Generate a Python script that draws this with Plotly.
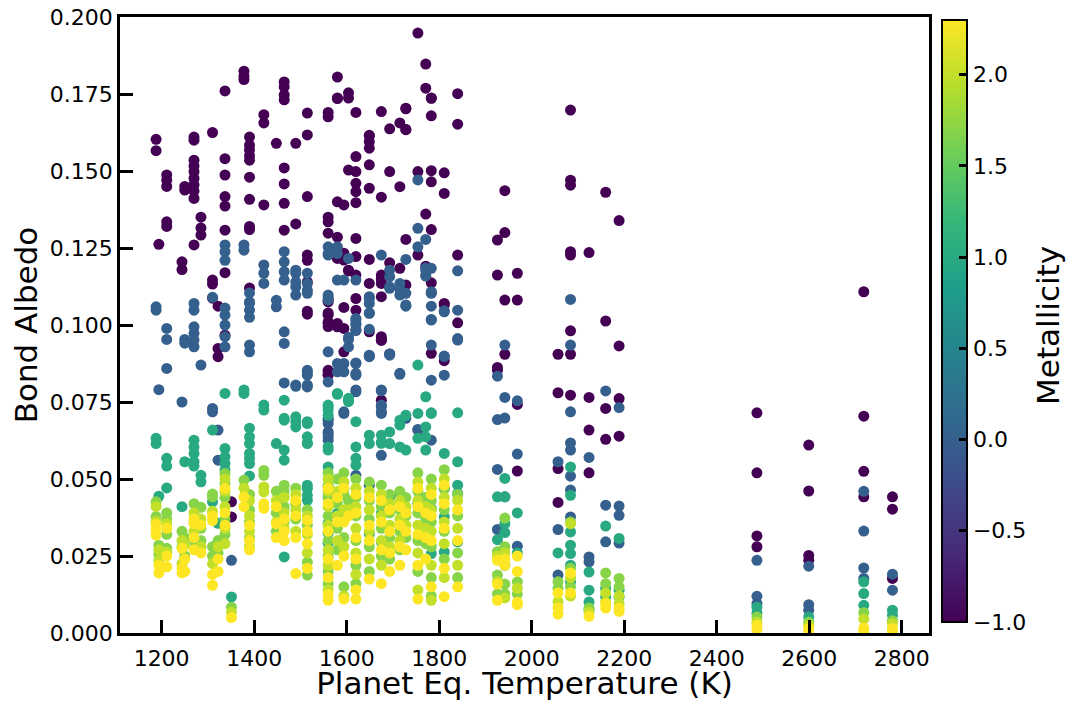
import plotly.graph_objects as go

# planet equilibrium temperatures (K), one column of models per planet
temps = [1188, 1194, 1211, 1244, 1250, 1270, 1285, 1310, 1322, 1337,
         1351, 1378, 1390, 1421, 1448, 1465, 1490, 1515, 1560, 1580,
         1594, 1604, 1620, 1649, 1675, 1693, 1715, 1728, 1754, 1771,
         1783, 1811, 1840, 1926, 1942, 1969, 2057, 2084, 2124, 2160,
         2189, 2487, 2599, 2718, 2780]

metallicities = [-1.0, 0.0, 1.0, 1.7, 2.0, 2.3]

# bond albedo per planet column, metallicity -1.0
alb_m10 = [
    [0.1603, 0.1566], [0.1262], [0.1487, 0.147, 0.145, 0.1335, 0.132],
    [0.1205, 0.118], [0.145, 0.1438],
    [0.161, 0.160, 0.1535, 0.1516, 0.1498, 0.1476, 0.1455, 0.1435, 0.1411, 0.126],
    [0.135, 0.1315, 0.1292], [0.1625, 0.1146, 0.1133, 0.1087], [0.1061, 0.0924, 0.0897],
    [0.176, 0.154, 0.1487, 0.1417, 0.1386, 0.1308, 0.117, 0.0967],
    [0.0426, 0.0377], [0.1824, 0.1808, 0.1797],
    [0.161, 0.1584, 0.1568, 0.155, 0.1535, 0.148, 0.1408, 0.131, 0.132, 0.112],
    [0.1683, 0.1656, 0.139], [0.159],
    [0.1789, 0.1773, 0.1747, 0.1731, 0.151, 0.1458, 0.1395, 0.1308],
    [0.159, 0.1328],
    [0.1688, 0.1617, 0.1417, 0.1227, 0.121, 0.114, 0.1045, 0.1035],
    [0.169, 0.1676, 0.135, 0.1335, 0.1298, 0.1075, 0.1039, 0.1006, 0.0995, 0.1081,
     0.1032, 0.101, 0.0853, 0.0837, 0.0848, 0.084],
    [0.1805, 0.1735, 0.1737, 0.140, 0.1285, 0.1243, 0.1216, 0.0994, 0.1005],
    [0.139, 0.1233, 0.1211, 0.0989, 0.1057, 0.0913],
    [0.1754, 0.1737, 0.1503, 0.1178, 0.1176],
    [0.169, 0.1547, 0.1498, 0.146, 0.1433, 0.1397, 0.1281, 0.1086, 0.1048, 0.1222,
     0.1162, 0.0983],
    [0.1616, 0.1614, 0.1595, 0.1574, 0.152, 0.1444, 0.1213, 0.1135, 0.0978],
    [0.1693, 0.1415, 0.1151, 0.1135, 0.1092, 0.0962, 0.1162, 0.1146, 0.0953, 0.0756, 0.095],
    [0.1637, 0.1498, 0.1202, 0.0906], [0.1656, 0.1449, 0.1184],
    [0.1702, 0.1634, 0.1704, 0.1635, 0.1278, 0.113], [0.1948, 0.1498, 0.1227],
    [0.1847, 0.1769, 0.136, 0.1191],
    [0.1736, 0.1737, 0.1679, 0.1501, 0.1465, 0.131, 0.1105, 0.1137, 0.0908],
    [0.1494, 0.1427, 0.107, 0.0884, 0.1065], [0.1751, 0.1652, 0.1227, 0.1007],
    [0.1276, 0.1162, 0.0862, 0.0853], [0.1436, 0.13, 0.1081, 0.0905],
    [0.1168, 0.1081, 0.0742, 0.0526], [0.0905, 0.078, 0.0534, 0.0424],
    [0.1698, 0.147, 0.1454, 0.1238, 0.1227, 0.0981, 0.0905, 0.0772],
    [0.1235, 0.0765, 0.0659, 0.052], [0.1431, 0.1013, 0.0729, 0.0629],
    [0.1339, 0.0932, 0.0761, 0.0639], [0.0715, 0.052, 0.0315, 0.028],
    [0.061, 0.0461, 0.0252, 0.0236], [0.1108, 0.0704, 0.0525, 0.0442],
    [0.0442, 0.0402, 0.0177],
]

# metallicity 0.0
alb_00 = [
    [0.1059, 0.1048], [0.079], [0.0989, 0.0953, 0.0859], [0.075], [0.0953, 0.0941],
    [0.107, 0.1048, 0.0994, 0.0973, 0.0951, 0.0929], [0.087], [0.109, 0.0729, 0.0718],
    [0.0659, 0.0561], [0.126, 0.1238, 0.121, 0.1055, 0.1032, 0.1, 0.0962, 0.0929],
    [0.0236], [0.126, 0.1243], [0.1104, 0.1075, 0.1071, 0.1048, 0.1025, 0.0935, 0.0913],
    [0.1195, 0.1168, 0.1135], [0.108, 0.1059],
    [0.1238, 0.1205, 0.1173, 0.1146, 0.0978, 0.094, 0.0812],
    [0.1168, 0.1124, 0.1097, 0.0805, 0.0801, 0.1178, 0.114],
    [0.1168, 0.1113, 0.1135, 0.1103, 0.0845, 0.0853, 0.0837, 0.0805, 0.0799],
    [0.1232, 0.1254, 0.109, 0.0913, 0.0815, 0.0691, 0.0648, 0.0626, 0.1227, 0.1097,
     0.1081, 0.0697, 0.068, 0.0653, 0.0637],
    [0.1254, 0.1232, 0.1146, 0.0875, 0.0848],
    [0.1146, 0.0875, 0.0848, 0.0713, 0.0718],
    [0.1216, 0.096, 0.0953, 0.0929],
    [0.1146, 0.1021, 0.1005, 0.0983, 0.1016, 0.1, 0.0875, 0.0837, 0.0789, 0.0877,
     0.0843, 0.0783, 0.0512],
    [0.1092, 0.1039, 0.0986, 0.1086, 0.107, 0.1038, 0.0902, 0.0897, 0.0899, 0.048],
    [0.1227, 0.0789, 0.0734, 0.0713, 0.0786, 0.074, 0.0718, 0.0577],
    [0.1178, 0.1157, 0.1119, 0.1124, 0.0902, 0.0906],
    [0.1135, 0.1116, 0.1097, 0.0843, 0.084],
    [0.1213, 0.1103, 0.1061, 0.1065, 0.0697],
    [0.1471, 0.1314, 0.1254, 0.0661, 0.0659],
    [0.1278, 0.1185, 0.1162, 0.1178, 0.1159],
    [0.1184, 0.1103, 0.1061, 0.1018, 0.1108, 0.1016, 0.0935, 0.0821, 0.0626],
    [0.1046, 0.1043, 0.0899, 0.0837, 0.0897, 0.0469],
    [0.1176, 0.1048, 0.0956, 0.0951],
    [0.0834, 0.0693, 0.0531, 0.0336], [0.0935, 0.0765, 0.0698, 0.0442],
    [0.0754, 0.0581, 0.0282], [0.0556, 0.0336, 0.0188],
    [0.1083, 0.0935, 0.0718, 0.0617, 0.0594, 0.0509, 0.0464, 0.0377],
    [0.057, 0.0247, 0.0231], [0.0786, 0.0415, 0.0296], [0.0732, 0.0412, 0.0382, 0.0292],
    [0.0236, 0.0119, 0.0095], [0.0217, 0.0092, 0.0074],
    [0.046, 0.0331, 0.0211, 0.0177], [0.0191, 0.0139],
]

# metallicity 1.0
alb_10 = [
    [0.0632, 0.0615], [0.0444], [0.0567, 0.0542, 0.0471], [0.041], [0.0556],
    [0.0626, 0.0604, 0.0583, 0.0556, 0.0542], [0.0512, 0.0491], [0.0659, 0.0426],
    [0.0356, 0.0291], [0.0778, 0.0599, 0.0572, 0.055, 0.0529], [0.0117],
    [0.0789, 0.0778], [0.0665, 0.0637, 0.0615, 0.0583, 0.0567, 0.055, 0.051],
    [0.074, 0.0724], [0.0615], [0.0756, 0.0691, 0.0697, 0.0594, 0.0561, 0.0247],
    [0.0669, 0.0686, 0.0702],
    [0.0615, 0.0686, 0.068, 0.0617, 0.0637, 0.0469, 0.0447, 0.048, 0.0431],
    [0.0734, 0.0604, 0.0539, 0.0356, 0.0324, 0.0291, 0.074, 0.0724, 0.0707, 0.0594,
     0.0474, 0.0442],
    [0.0778, 0.0775, 0.0388], [0.0469, 0.0388], [0.0756, 0.0751, 0.0762],
    [0.0686, 0.0604, 0.0567, 0.0545], [0.0642, 0.0615, 0.0323],
    [0.062, 0.0616, 0.0642, 0.0388, 0.0296], [0.0653, 0.0615, 0.0442],
    [0.0675, 0.0604, 0.0691, 0.0453], [0.0707, 0.0594, 0.0388],
    [0.087, 0.0713, 0.0632, 0.042], [0.0767, 0.0669, 0.0637, 0.0594],
    [0.0715, 0.0713, 0.0404, 0.0258], [0.0583, 0.0377, 0.0263],
    [0.0715, 0.0556, 0.048, 0.0453, 0.0296],
    [0.0442, 0.0303], [0.0502, 0.0442, 0.0355, 0.0326, 0.022], [0.039, 0.026],
    [0.026], [0.0539, 0.0447, 0.0328, 0.0285, 0.0258, 0.022, 0.0166],
    [0.0198, 0.0139, 0.0101, 0.0076], [0.0347, 0.0144, 0.0117],
    [0.0307, 0.0139, 0.0117], [0.0084, 0.0065], [0.0052],
    [0.0166, 0.0128, 0.009], [0.0074, 0.0058],
]

# metallicity 1.7
alb_17 = [
    [0.0426, 0.0378], [0.0285, 0.0255], [0.039, 0.037, 0.032, 0.0275], [0.033, 0.028],
    [0.031, 0.025], [0.042, 0.036, 0.030], [0.0408, 0.034, 0.030],
    [0.0451, 0.0442, 0.028, 0.025], [0.030, 0.026], [0.0518, 0.0485, 0.044, 0.037, 0.032],
    [0.0084], [0.0496], [0.045, 0.040, 0.036, 0.031], [0.0528, 0.0512],
    [0.046, 0.039, 0.033], [0.048, 0.046, 0.041, 0.036], [0.047, 0.042, 0.037],
    [0.040, 0.035, 0.023, 0.0188], [0.052, 0.048, 0.044, 0.038, 0.030, 0.025, 0.020, 0.016],
    [0.050, 0.042, 0.034, 0.027], [0.052, 0.045, 0.031, 0.015], [0.043],
    [0.050, 0.044, 0.038, 0.030, 0.022, 0.016], [0.049, 0.043, 0.037, 0.028, 0.020],
    [0.048, 0.041, 0.034, 0.025], [0.045, 0.039, 0.031, 0.024],
    [0.046, 0.040, 0.033, 0.027], [0.044, 0.038, 0.031],
    [0.052, 0.046, 0.039, 0.030, 0.020], [0.044, 0.037, 0.029],
    [0.050, 0.043, 0.036, 0.028, 0.018, 0.012], [0.053, 0.047, 0.040, 0.033, 0.024],
    [0.045, 0.038, 0.026, 0.018],
    [0.0264, 0.0188, 0.0127], [0.0373, 0.028, 0.0159, 0.0127], [0.0166, 0.0127],
    [0.0166, 0.0145], [0.036, 0.021, 0.015], [0.0081], [0.0195, 0.016],
    [0.0177, 0.015], [0.0052], [0.0035], [0.0066], [0.004],
]

# metallicity 2.0
alb_20 = [
    [0.0411, 0.0363], [0.027, 0.0235], [0.0355, 0.0262], [0.030, 0.0225], [0.0285],
    [0.039, 0.033], [0.037, 0.028], [0.0395, 0.0225], [0.028],
    [0.050, 0.046, 0.041, 0.034, 0.029], [0.0067], [0.047], [0.043, 0.038, 0.033, 0.028],
    [0.0474, 0.0458], [0.043, 0.036], [0.044, 0.039, 0.034], [0.045, 0.040, 0.033],
    [0.038, 0.032, 0.026], [0.050, 0.046, 0.041, 0.035, 0.027, 0.022, 0.014],
    [0.046, 0.038, 0.030], [0.049, 0.040, 0.028, 0.012], [0.040],
    [0.047, 0.041, 0.034, 0.026, 0.019], [0.046, 0.040, 0.033, 0.024],
    [0.045, 0.038, 0.030, 0.022], [0.042, 0.035, 0.028], [0.043, 0.037, 0.030],
    [0.041, 0.035], [0.049, 0.043, 0.035, 0.026, 0.014], [0.041, 0.034],
    [0.047, 0.040, 0.033, 0.022, 0.0106], [0.050, 0.044, 0.036, 0.029, 0.018],
    [0.043, 0.034, 0.022],
    [0.025, 0.0166], [0.026, 0.0114], [0.0145], [0.0102], [0.0355, 0.018, 0.012],
    [0.0068], [0.013, 0.010], [0.012, 0.0095], [0.0035], [0.0025], [0.0045], [0.003],
]

# metallicity 2.3
alb_23 = [
    [0.0352, 0.0335, 0.0318], [0.022, 0.0195], [0.034, 0.025, 0.0215],
    [0.0275, 0.021, 0.0195], [0.024, 0.020], [0.037, 0.0355, 0.031, 0.027],
    [0.035, 0.026], [0.038, 0.0365, 0.019, 0.0155], [0.024, 0.020],
    [0.047, 0.039, 0.035], [0.005], [0.0442, 0.041], [0.035, 0.030, 0.027],
    [0.042, 0.0405], [0.041, 0.0355, 0.031], [0.037, 0.033, 0.030],
    [0.043, 0.038, 0.031, 0.0193], [0.0366, 0.033, 0.029, 0.021],
    [0.047, 0.042, 0.033, 0.024, 0.018, 0.0125, 0.0106], [0.044, 0.036, 0.022],
    [0.047, 0.036, 0.025, 0.011], [0.038], [0.045, 0.039, 0.031, 0.024, 0.014, 0.011],
    [0.044, 0.035, 0.030, 0.0175], [0.043, 0.036, 0.027, 0.016],
    [0.040, 0.033, 0.026, 0.020], [0.041, 0.035, 0.028, 0.022], [0.039, 0.033, 0.027],
    [0.047, 0.041, 0.032, 0.022, 0.011], [0.039, 0.031, 0.024],
    [0.045, 0.038, 0.030, 0.015], [0.048, 0.042, 0.034, 0.021, 0.0118],
    [0.040, 0.030, 0.015],
    [0.0236, 0.0159, 0.0106], [0.024, 0.022], [0.025, 0.02, 0.010, 0.0092],
    [0.013, 0.0082, 0.0061], [0.0195, 0.013], [0.0054], [0.0095, 0.0081],
    [0.0081, 0.007], [0.0025, 0.0012], [0.0015, 0.0005], [0.0016, 0.0005],
    [0.0015, 0.0005],
]

all_series = [alb_m10, alb_00, alb_10, alb_17, alb_20, alb_23]

xs, ys, cs = [], [], []
for met, series in zip(metallicities, all_series):
    for t, vals in zip(temps, series):
        for v in vals:
            xs.append(t)
            ys.append(v)
            cs.append(met)

font = "DejaVu Sans"

fig = go.Figure()
fig.add_trace(go.Scatter(
    x=xs, y=ys, mode="markers",
    marker=dict(
        size=11, color=cs, colorscale="Viridis", cmin=-1.0, cmax=2.3,
        line=dict(width=0),
        colorbar=dict(
            tickvals=[-1.0, -0.5, 0.0, 0.5, 1.0, 1.5, 2.0],
            ticktext=["\u22121.0", "\u22120.5", "0.0", "0.5", "1.0", "1.5", "2.0"],
            ticks="inside", ticklen=9, tickwidth=2.5, tickcolor="black",
            tickfont=dict(family=font, size=22, color="black"),
            outlinewidth=2, outlinecolor="black",
            thickness=25, thicknessmode="pixels",
            x=1.016, xanchor="left", xpad=0,
            y=0.5065, yanchor="middle", len=0.977, lenmode="fraction",
            ypad=0,
        ),
    ),
    showlegend=False,
))

# colorbar label placed by hand so it sits as far out as in the original
fig.add_annotation(text="Metallicity", x=1.147, y=0.5, xref="paper", yref="paper",
                   xanchor="center", yanchor="middle",
                   showarrow=False, textangle=-90,
                   font=dict(family=font, size=31, color="black"))

axis_common = dict(
    showline=True, linecolor="black", linewidth=2.5, mirror=True,
    ticks="inside", ticklen=13, tickwidth=3, tickcolor="black",
    showgrid=False, zeroline=False, ticklabeloverflow="allow",
    tickfont=dict(family=font, size=22, color="black"),
)

# the page body adds 8px, so the figure is a bit smaller than the window
fig.update_layout(
    width=1059, height=693,
    margin=dict(l=112, r=138, t=9, b=68, autoexpand=False),
    paper_bgcolor="white", plot_bgcolor="white",
    font=dict(family=font, color="black"),
    xaxis=dict(range=[1110, 2859], tick0=1200, dtick=200, ticklabelstandoff=4,
               title=dict(text="Planet Eq. Temperature (K)", standoff=3,
                          font=dict(family=font, size=31, color="black")),
               **axis_common),
    yaxis=dict(range=[0, 0.2], tick0=0, dtick=0.025, tickformat=".3f",
               title=dict(text="Bond Albedo", standoff=6,
                          font=dict(family=font, size=31, color="black")),
               **axis_common),
)

fig.write_html("out.html")
